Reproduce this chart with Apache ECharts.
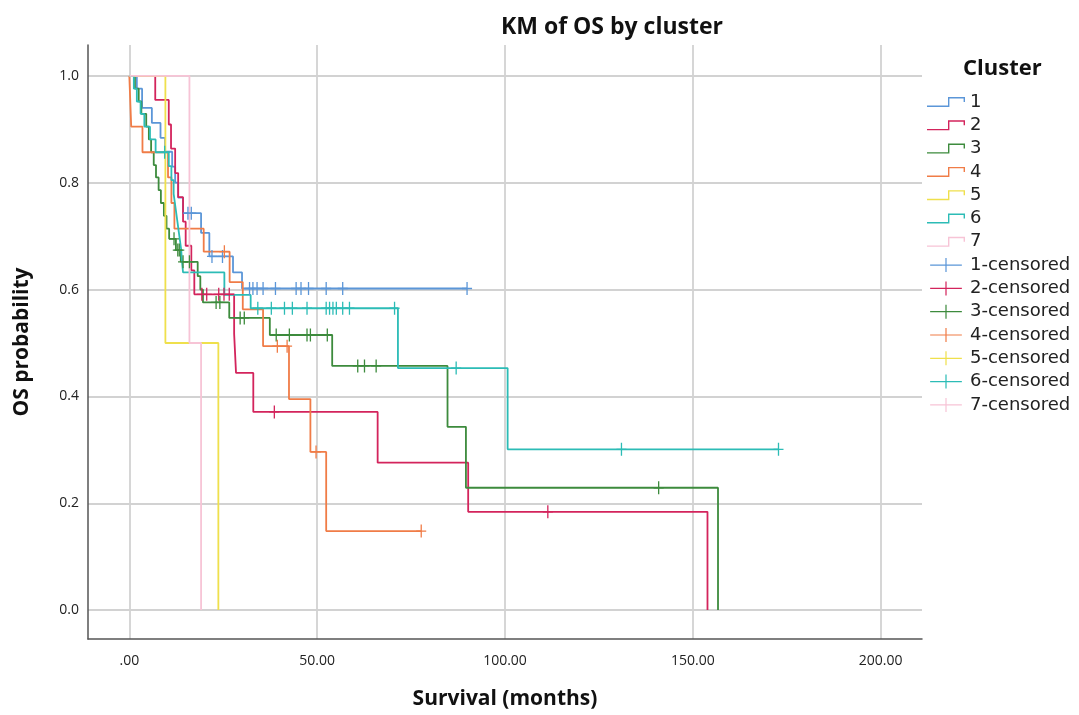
<!DOCTYPE html>
<html><head><meta charset="utf-8">
<script src="https://cdn.jsdelivr.net/npm/echarts@6/dist/echarts.min.js"></script>
<style>html,body{margin:0;padding:0;background:#fff}#c{width:1079px;height:715px}</style>
</head><body><div id="c"></div><script>
// ---- data (months, survival probability) ----
const clusters = ['1','2','3','4','5','6','7'];
const colors = ['#5b96d8','#d3245c','#3d8b3d','#f07c47','#efe04c','#2cbcb6','#f7c4d6'];

const c1T = [0, 2.0, 3.4, 6.0, 8.3, 9.5, 11.4, 12.2, 13.0, 14.3, 19.1, 21.3, 27.6, 30.0, 89.9];
const c1S = [1, 0.976, 0.94, 0.912, 0.884, 0.858, 0.83, 0.8, 0.772, 0.743, 0.706, 0.662, 0.632, 0.602, 0.602];
const c1CensT = [15.6, 16.5, 22.0, 24.8, 32.0, 32.9, 34.0, 35.6, 38.9, 44.4, 45.7, 47.7, 52.4, 56.8, 89.9];
const c1CensS = [0.743, 0.743, 0.662, 0.662, 0.602, 0.602, 0.602, 0.602, 0.602, 0.602, 0.602, 0.602, 0.602, 0.602, 0.602];

const c2T = [0, 6.9, 10.5, 11.1, 12.2, 13.0, 14.3, 15.0, 16.5, 17.3, 27.9, 28.4, 33.0, 66.1, 90.2, 153.9];
const c2S = [1, 0.955, 0.909, 0.864, 0.818, 0.773, 0.727, 0.682, 0.636, 0.591, 0.517, 0.444, 0.371, 0.276, 0.184, 0];
const c2CensT = [19.3, 20.6, 23.8, 25.2, 26.6, 38.6, 111.4];
const c2CensS = [0.591, 0.591, 0.591, 0.591, 0.591, 0.371, 0.184];

const c3T = [0, 1.5, 2.5, 3.2, 4.5, 5.2, 5.8, 6.5, 7.1, 7.8, 8.4, 9.2, 9.9, 10.6, 12.4, 13.7, 18.2, 18.9, 19.6, 26.6, 37.4, 54.0, 84.7, 89.6, 156.7];
const c3S = [1, 0.976, 0.952, 0.929, 0.905, 0.881, 0.857, 0.833, 0.81, 0.786, 0.762, 0.738, 0.714, 0.695, 0.674, 0.652, 0.625, 0.6, 0.576, 0.547, 0.515, 0.457, 0.343, 0.229, 0];
const c3CensT = [11.9, 12.9, 13.3, 14.3, 16.0, 23.1, 24.1, 29.5, 30.6, 39.1, 42.6, 47.3, 48.2, 52.7, 60.8, 62.6, 65.7, 140.9];
const c3CensS = [0.695, 0.674, 0.674, 0.652, 0.652, 0.576, 0.576, 0.547, 0.547, 0.515, 0.515, 0.515, 0.515, 0.515, 0.457, 0.457, 0.457, 0.229];

const c4T = [0, 0.5, 3.5, 10.3, 11.2, 12.0, 19.8, 26.7, 30.2, 35.6, 42.5, 48.2, 52.4, 77.7];
const c4S = [1, 0.905, 0.857, 0.81, 0.762, 0.714, 0.671, 0.614, 0.563, 0.494, 0.395, 0.296, 0.148, 0.148];
const c4CensT = [25.3, 39.4, 42.0, 49.7, 77.7];
const c4CensS = [0.671, 0.494, 0.494, 0.296, 0.148];

const c5T = [0, 9.6, 23.7];
const c5S = [1, 0.5, 0];
const c5CensT = [];
const c5CensS = [];

const c6T = [0, 1.2, 2.0, 3.0, 4.0, 5.5, 7.0, 10.5, 11.2, 11.8, 12.3, 12.8, 13.3, 13.8, 14.0, 14.3, 25.3, 32.3, 71.5, 100.7, 172.8];
const c6S = [1, 0.976, 0.952, 0.929, 0.905, 0.881, 0.857, 0.831, 0.805, 0.779, 0.753, 0.727, 0.701, 0.675, 0.654, 0.632, 0.59, 0.565, 0.453, 0.301, 0.301];
const c6CensT = [9.4, 34.2, 37.8, 41.3, 43.4, 47.3, 52.4, 53.3, 54.2, 55.1, 56.8, 58.6, 70.6, 87.0, 131.0, 172.8];
const c6CensS = [0.857, 0.565, 0.565, 0.565, 0.565, 0.565, 0.565, 0.565, 0.565, 0.565, 0.565, 0.565, 0.565, 0.453, 0.301, 0.301];

const c7T = [0, 16.0, 19.1];
const c7S = [1, 0.5, 0];
const c7CensT = [];
const c7CensS = [];

const xTicks = [0, 50, 100, 150, 200];
const yTicks = [0, 0.2, 0.4, 0.6, 0.8, 1.0];

// ---- build ----
const curves = [[c1T,c1S],[c2T,c2S],[c3T,c3S],[c4T,c4S],[c5T,c5S],[c6T,c6S],[c7T,c7S]];
const cens = [[c1CensT,c1CensS],[c2CensT,c2CensS],[c3CensT,c3CensS],[c4CensT,c4CensS],[c5CensT,c5CensS],[c6CensT,c6CensS],[c7CensT,c7CensS]];
const zip = (a, b) => a.map((v, i) => [v, b[i]]);

const plusMark = 'path://M4.35,0H5.65V5.85H10V7.15H5.65V13H4.35V7.15H0V5.85H4.35Z';
const plusIcon = 'path://M16.35,0H17.65V6.85H34V8.15H17.65V15H16.35V8.15H0V6.85H16.35Z';
const stepIcon = 'path://M0,8.6H21V0H38V5H36.6V1.4H22.4V10H0Z';

const series = [];
const legendData = [];
clusters.forEach((c, i) => {
  series.push({
    name: c, type: 'line', step: 'end', showSymbol: false, symbol: 'none',
    data: zip(curves[i][0], curves[i][1]),
    lineStyle: { width: 1.8, color: colors[i] }, itemStyle: { color: colors[i] },
    z: 2 + i, animation: false
  });
  legendData.push({ name: c, icon: stepIcon, itemStyle: { color: colors[i], borderWidth: 0 } });
});
clusters.forEach((c, i) => {
  series.push({
    name: c + '-censored', type: 'scatter', symbol: plusMark, symbolSize: [10, 13],
    data: zip(cens[i][0], cens[i][1]),
    itemStyle: { color: colors[i], opacity: 1 }, z: 10 + i, animation: false
  });
  legendData.push({ name: c + '-censored', icon: plusIcon, itemStyle: { color: colors[i], borderWidth: 0 } });
});

const labelFont = '"Liberation Sans Narrow", "Open Sans", sans-serif';
const chart = echarts.init(document.getElementById('c'));
chart.setOption({
  animation: false,
  backgroundColor: '#fff',
  title: [
    { text: 'KM of OS by cluster', left: 607, top: 11, textAlign: 'center',
      textStyle: { fontSize: 23, fontWeight: 'bold', color: '#111', fontFamily: '"Open Sans", sans-serif' } },
    { text: 'Cluster', left: 958, top: 53,
      textStyle: { fontSize: 22, fontWeight: 'bold', color: '#111', fontFamily: '"Open Sans", sans-serif' } }
  ],
  legend: {
    orient: 'vertical', left: 922, top: 88, itemWidth: 38, itemHeight: 14, itemGap: 5.3,
    selectedMode: false, data: legendData,
    textStyle: { fontSize: 18, color: '#222', fontFamily: '"DejaVu Sans", sans-serif' }
  },
  grid: { left: 88, right: 157, top: 45, bottom: 74 },
  xAxis: {
    type: 'value', min: -11, max: 211,
    name: 'Survival (months)', nameLocation: 'middle', nameGap: 50,
    nameTextStyle: { fontSize: 21, fontWeight: 'bold', color: '#111', fontFamily: '"Open Sans", sans-serif' },
    axisLine: { show: true, onZero: false, lineStyle: { color: '#555', width: 1.5 } },
    axisTick: { show: false, customValues: xTicks },
    axisLabel: { customValues: xTicks, margin: 15, fontSize: 14, color: '#222', fontFamily: labelFont,
      formatter: v => v === 0 ? '.00' : v.toFixed(2) },
    splitLine: { show: true, lineStyle: { color: '#d2d2d2', width: 1.8 } }
  },
  yAxis: {
    type: 'value', min: -0.0541, max: 1.0578,
    name: 'OS probability', nameLocation: 'middle', nameGap: 55, nameRotate: 90,
    nameTextStyle: { fontSize: 21, fontWeight: 'bold', color: '#111', fontFamily: '"Open Sans", sans-serif' },
    axisLine: { show: true, onZero: false, lineStyle: { color: '#555', width: 1.5 } },
    axisTick: { show: false, customValues: yTicks },
    axisLabel: { customValues: yTicks, margin: 9, fontSize: 14, color: '#222', fontFamily: labelFont,
      formatter: v => v.toFixed(1) },
    splitLine: { show: true, lineStyle: { color: '#d2d2d2', width: 1.8 } }
  },
  series: series
});
</script></body></html>
